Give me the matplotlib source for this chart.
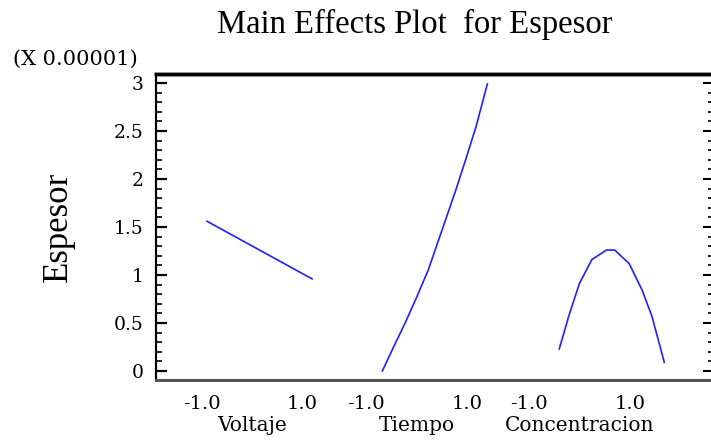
'''Main effects plot for Espesor (values in units of 1e-5)'''

import numpy as np
import matplotlib
matplotlib.use('Agg')
import matplotlib.pyplot as plt
from matplotlib.ticker import MultipleLocator
from matplotlib.transforms import blended_transform_factory

# factor names and where each factor sits on the shared x axis
factors = ['Voltaje', 'Tiempo', 'Concentracion']
offsets = [0.0, 3.34, 6.71]

# coded levels (-1..1) and mean response
volt_x = [-1.0, 1.0]
volt_y = [1.56, 0.96]

tiem_x = [-1.0, -0.786, -0.566, -0.345, -0.127, 0.132, 0.409, 0.598, 0.787, 1.0]
tiem_y = [0.0, 0.25, 0.50, 0.77, 1.05, 1.46, 1.90, 2.22, 2.55, 2.99]

conc_x = [-1.0, -0.815, -0.617, -0.38, -0.10, 0.055, 0.21, 0.33, 0.58, 0.765, 1.0]
conc_y = [0.23, 0.58, 0.91, 1.16, 1.26, 1.26, 1.18, 1.12, 0.84, 0.57, 0.09]

# tick label positions and texts
tick_pos = [-1.095, 0.81, 2.03, 3.95, 5.13, 7.06]
tick_txt = ['-1.0', '1.0', '-1.0', '1.0', '-1.0', '1.0']

serif = ['Liberation Serif', 'DejaVu Serif']
wide = ['DejaVu Serif']

fig = plt.figure(figsize=(7.11, 4.44), dpi=100)
ax = fig.add_axes([156/711, 64/444, 555/711, 306/444])

series = [(volt_x, volt_y), (tiem_x, tiem_y), (conc_x, conc_y)]
for (xs, ys), off in zip(series, offsets):
    ax.plot(np.array(xs) + off, ys, color='#2020ff', lw=1.2)

ax.set_xlim(-1.971, 8.6)
ax.set_ylim(-0.094, 3.094)

# x axis: labels only
ax.set_xticks(tick_pos)
ax.set_xticklabels(tick_txt, family=wide, fontsize=14)
ax.tick_params(axis='x', length=0, pad=11)

trans = blended_transform_factory(ax.transData, fig.transFigure)
for i, name in enumerate(factors):
    xc = (tick_pos[2*i] + tick_pos[2*i+1]) / 2
    ax.text(xc, 1 - 425/444, name, transform=trans, ha='center', va='center',
            family=wide, fontsize=14.5)

# y axis
ax.yaxis.set_major_locator(MultipleLocator(0.5))
ax.yaxis.set_minor_locator(MultipleLocator(0.1))
ax.set_yticks([0, 0.5, 1, 1.5, 2, 2.5, 3])
ax.set_yticklabels(['0', '0.5', '1', '1.5', '2', '2.5', '3'], family=wide, fontsize=13.5)
ax.tick_params(axis='y', which='major', direction='in', length=8, width=1.6, pad=9)
ax.tick_params(axis='y', which='minor', direction='in', length=4, width=1.2)

# right side ticks (shorter)
ax2 = ax.twinx()
ax2.set_ylim(ax.get_ylim())
ax2.yaxis.set_major_locator(MultipleLocator(0.5))
ax2.yaxis.set_minor_locator(MultipleLocator(0.1))
ax2.tick_params(axis='y', which='major', direction='in', length=6, width=1.5, labelright=False)
ax2.tick_params(axis='y', which='minor', direction='in', length=2, width=1.2)

for a in (ax, ax2):
    a.spines['right'].set_visible(False)
    a.spines['top'].set_linewidth(2.5)
    a.spines['left'].set_linewidth(1.5)
    a.spines['bottom'].set_linewidth(2.0)
    a.spines['bottom'].set_color('#555555')

fig.text(415/711, 1 - 24/444, 'Main Effects Plot  for Espesor', ha='center', va='center',
         family=serif, fontsize=23.5)
fig.text(58/711, 1 - 227/444, 'Espesor', rotation=90, ha='center', va='center',
         family=serif, fontsize=25)
fig.text(13/711, 1 - 59/444, '(X 0.00001)', ha='left', va='center',
         family=wide, fontsize=15)

fig.savefig('out.png', dpi=100)
